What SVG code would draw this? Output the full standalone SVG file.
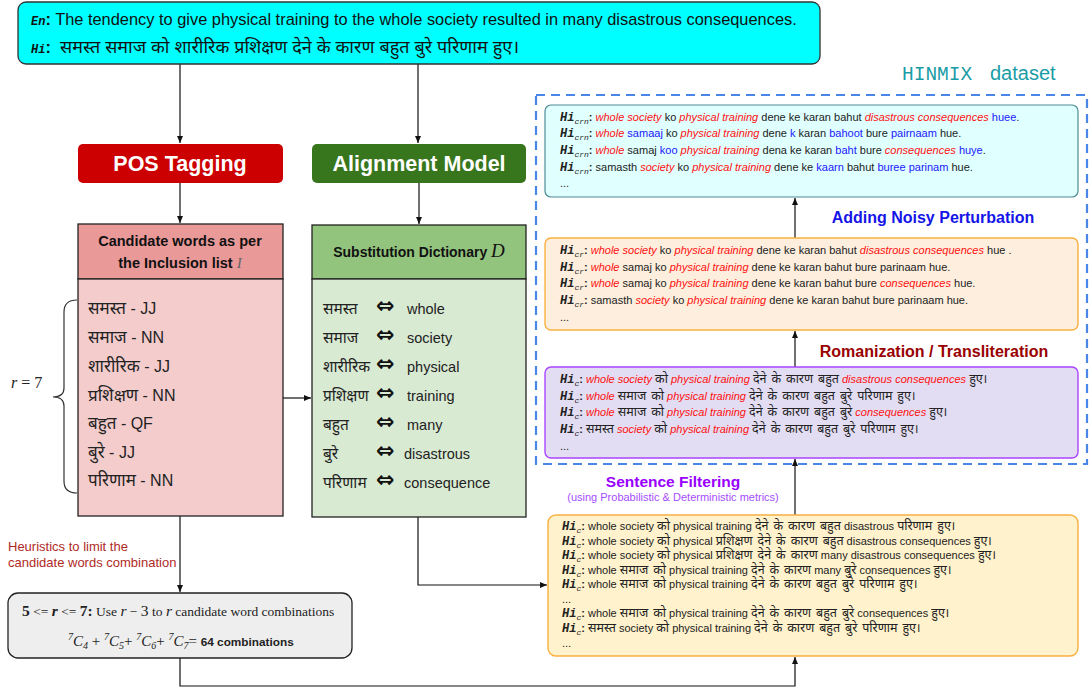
<svg xmlns="http://www.w3.org/2000/svg" width="1089" height="691" viewBox="0 0 1089 691">
<defs>
<marker id="ah" markerWidth="8" markerHeight="8" refX="7" refY="4" orient="auto" markerUnits="userSpaceOnUse">
<path d="M0,1 L7,4 L0,7 Z" fill="#111"/>
</marker>
<style>
.sans{font-family:"Liberation Sans","Noto Sans","Noto Sans Devanagari",sans-serif}
.serif{font-family:"Liberation Serif","DejaVu Serif",serif}
.t{font-family:"Liberation Sans","Noto Sans","Noto Sans Devanagari",sans-serif;font-size:11px;fill:#222}
.hi{font-family:"Liberation Mono","DejaVu Sans Mono",monospace;font-weight:bold;font-style:italic;font-size:12px}
.sub{font-family:"Liberation Mono","DejaVu Sans Mono",monospace;font-style:italic;font-size:8px}
.col{font-weight:bold}
.dv{font-size:12.5px;word-spacing:1.5px}
.r{fill:#FF1010;font-style:italic}
.b{fill:#2020FF}
.conn{fill:none;stroke:#111;stroke-width:1.2}
.list{font-family:"Liberation Sans","Noto Sans","Noto Sans Devanagari",sans-serif;font-size:16px;fill:#222}
.ld{font-size:17px}
.dict{font-family:"Liberation Sans","Noto Sans","Noto Sans Devanagari",sans-serif;font-size:14.5px;fill:#222}
.dd{font-family:"Liberation Sans","Noto Sans","Noto Sans Devanagari",sans-serif;font-size:15.5px;fill:#222}
.dar{font-family:"DejaVu Sans",sans-serif;font-size:22px;font-weight:bold;fill:#111}
</style>
</defs>
<rect width="1089" height="691" fill="#fff"/>

<g id="connectors">
<path class="conn" d="M180,64 V143" marker-end="url(#ah)"/>
<path class="conn" d="M418,64 V143" marker-end="url(#ah)"/>
<path class="conn" d="M180,183 V223" marker-end="url(#ah)"/>
<path class="conn" d="M419,183 V224" marker-end="url(#ah)"/>
<path class="conn" d="M283,398 H311" marker-end="url(#ah)"/>
<path class="conn" d="M180,516 V592" marker-end="url(#ah)"/>
<path class="conn" d="M180,658 V686 H795 V657" marker-end="url(#ah)"/>
<path class="conn" d="M418,517 V585 H547" marker-end="url(#ah)"/>
<path class="conn" d="M795,515 V459" marker-end="url(#ah)"/>
<path class="conn" d="M795,367 V331" marker-end="url(#ah)"/>
<path class="conn" d="M795,238 V198" marker-end="url(#ah)"/>
</g>

<g id="source">
<rect x="18" y="2" width="802" height="62" rx="8" fill="#00FFFF" stroke="#333" stroke-width="1.3"/>
<text x="31" y="25" class="sans" font-size="16.4" fill="#111"><tspan class="hi" font-size="14">En</tspan><tspan font-weight="bold">:</tspan> The tendency to give physical training to the whole society resulted in many disastrous consequences.</text>
<text x="31" y="53" class="sans" font-size="16.4" fill="#111"><tspan class="hi" font-size="14">Hi</tspan><tspan font-weight="bold">:</tspan></text>
<text x="60" y="53" class="sans" font-size="18" fill="#111" textLength="459" lengthAdjust="spacingAndGlyphs">समस्त समाज को शारीरिक प्रशिक्षण देने के कारण बहुत बुरे परिणाम हुए।</text>
</g>

<g id="pos-tagging">
<rect x="78" y="144" width="205" height="39" rx="5" fill="#CC0000"/>
<text x="180" y="171" class="sans" font-size="21.5" font-weight="bold" fill="#fff" text-anchor="middle">POS Tagging</text>
</g>

<g id="alignment-model">
<rect x="312" y="144" width="214" height="39" rx="5" fill="#38761D"/>
<text x="419" y="171" class="sans" font-size="21.5" font-weight="bold" fill="#fff" text-anchor="middle">Alignment Model</text>
</g>

<g id="candidate-words">
<rect x="78" y="224" width="205" height="55" fill="#EA9999" stroke="#222" stroke-width="1.3"/>
<rect x="78" y="279" width="205" height="237" fill="#F4CCCC" stroke="#222" stroke-width="1.3"/>
<text x="180" y="246" class="sans" font-size="14.5" font-weight="bold" fill="#111" text-anchor="middle">Candidate words as per</text>
<text x="180" y="268" class="sans" font-size="14.5" font-weight="bold" fill="#111" text-anchor="middle">the Inclusion list <tspan class="serif" font-style="italic" font-weight="normal" fill="#666" font-size="15">I</tspan></text>
<text x="88" y="314" class="list"><tspan class="ld">समस्त</tspan>  - JJ</text>
<text x="88" y="343" class="list"><tspan class="ld">समाज</tspan> - NN</text>
<text x="88" y="372" class="list"><tspan class="ld">शारीरिक</tspan> - JJ</text>
<text x="88" y="401" class="list"><tspan class="ld">प्रशिक्षण</tspan> - NN</text>
<text x="88" y="429" class="list"><tspan class="ld">बहुत</tspan> - QF</text>
<text x="88" y="458" class="list"><tspan class="ld">बुरे</tspan> - JJ</text>
<text x="88" y="486" class="list"><tspan class="ld">परिणाम</tspan> - NN</text>
</g>

<g id="brace">
<path d="M77,300 Q64,300 64,312 V388 Q64,397 53,397 Q64,397 64,406 V481 Q64,493 77,493" fill="none" stroke="#333" stroke-width="1.2"/>
<text x="11" y="388" class="serif" font-size="16" fill="#222"><tspan font-style="italic">r</tspan> = 7</text>
</g>

<g id="substitution-dictionary">
<rect x="312" y="225" width="214" height="54" fill="#93C47D" stroke="#222" stroke-width="1.3"/>
<rect x="312" y="279" width="214" height="238" fill="#D9EAD3" stroke="#222" stroke-width="1.3"/>
<text x="419" y="257" class="sans" font-size="14" font-weight="bold" fill="#111" text-anchor="middle">Substitution Dictionary <tspan class="serif" font-style="italic" font-weight="normal" font-size="19">D</tspan></text>
<text x="323" y="314" class="dd">समस्त</text><text x="376" y="313" class="dar">⇔</text><text x="407" y="314" class="dict">whole</text>
<text x="323" y="343" class="dd">समाज</text><text x="376" y="342" class="dar">⇔</text><text x="407" y="343" class="dict">society</text>
<text x="323" y="372" class="dd">शारीरिक</text><text x="376" y="371" class="dar">⇔</text><text x="407" y="372" class="dict">physical</text>
<text x="323" y="401" class="dd">प्रशिक्षण</text><text x="376" y="400" class="dar">⇔</text><text x="407" y="401" class="dict">training</text>
<text x="323" y="430" class="dd">बहुत</text><text x="376" y="429" class="dar">⇔</text><text x="407" y="430" class="dict">many</text>
<text x="323" y="459" class="dd">बुरे</text><text x="376" y="458" class="dar">⇔</text><text x="404" y="459" class="dict">disastrous</text>
<text x="323" y="488" class="dd">परिणाम</text><text x="376" y="487" class="dar">⇔</text><text x="404" y="488" class="dict">consequence</text>
</g>

<g id="heuristics-label">
<text x="8" y="551" class="sans" font-size="13" fill="#B02A25">Heuristics to limit the</text>
<text x="8" y="567" class="sans" font-size="13" fill="#B02A25">candidate words combination</text>
</g>

<g id="combinations">
<rect x="8" y="593" width="344" height="65" rx="10" fill="#EEEEEE" stroke="#222" stroke-width="1.3"/>
<text x="22" y="616" class="serif" font-size="13.5" fill="#222"><tspan font-weight="bold" font-size="15.5">5</tspan> &lt;= <tspan font-weight="bold" font-style="italic" font-size="15.5">r</tspan> &lt;= <tspan font-weight="bold" font-size="15.5">7:</tspan> Use <tspan font-style="italic" font-size="15.5">r</tspan> − <tspan font-size="15.5">3</tspan> to <tspan font-style="italic" font-size="15.5">r</tspan> candidate word combinations</text>
<text x="68" y="646" class="serif" font-size="15" fill="#222"><tspan font-size="10" font-style="italic" dy="-6">7</tspan><tspan font-style="italic" dy="6">C</tspan><tspan font-size="10" font-style="italic" dy="3">4</tspan><tspan dy="-3"> + </tspan><tspan font-size="10" font-style="italic" dy="-6">7</tspan><tspan font-style="italic" dy="6">C</tspan><tspan font-size="10" font-style="italic" dy="3">5</tspan><tspan dy="-3">+ </tspan><tspan font-size="10" font-style="italic" dy="-6">7</tspan><tspan font-style="italic" dy="6">C</tspan><tspan font-size="10" font-style="italic" dy="3">6</tspan><tspan dy="-3">+ </tspan><tspan font-size="10" font-style="italic" dy="-6">7</tspan><tspan font-style="italic" dy="6">C</tspan><tspan font-size="10" font-style="italic" dy="3">7</tspan><tspan dy="-3">= </tspan><tspan class="sans" font-size="11.8" font-weight="bold">64 combinations</tspan></text>
</g>

<g id="hinmix-dataset">
<rect x="536" y="95" width="551" height="369" fill="none" stroke="#4A86E8" stroke-width="2.2" stroke-dasharray="9 6"/>
<text x="902" y="80" font-family="Liberation Mono, DejaVu Sans Mono, monospace" font-size="19.5" fill="#1A9CA6">HINMIX</text>
<text x="990" y="80" class="sans" font-size="20" fill="#1A9CA6">dataset</text>
</g>

<g id="code-mixed-noisy">
<rect x="545" y="105" width="533" height="92" rx="6" fill="#E0FFFF" stroke="#4E8C96" stroke-width="1.2"/>
<text x="560" y="121" class="t"><tspan class="hi">Hi</tspan><tspan class="sub" dy="3">crn</tspan><tspan class="col" dy="-3">:</tspan> <tspan class="r">whole society</tspan> ko <tspan class="r">physical training</tspan> dene ke karan bahut <tspan class="r">disastrous consequences</tspan> <tspan class="b">huee</tspan>.</text>
<text x="560" y="137" class="t"><tspan class="hi">Hi</tspan><tspan class="sub" dy="3">crn</tspan><tspan class="col" dy="-3">:</tspan> <tspan class="r">whole</tspan> <tspan class="b">samaaj</tspan> ko <tspan class="r">physical training</tspan> dene <tspan class="b">k</tspan> karan <tspan class="b">bahoot</tspan> bure <tspan class="b">pairnaam</tspan> hue.</text>
<text x="560" y="154" class="t"><tspan class="hi">Hi</tspan><tspan class="sub" dy="3">crn</tspan><tspan class="col" dy="-3">:</tspan> <tspan class="r">whole</tspan> samaj <tspan class="b">koo</tspan> <tspan class="r">physical training</tspan> dena ke karan <tspan class="b">baht</tspan> bure <tspan class="r">consequences</tspan> <tspan class="b">huye</tspan>.</text>
<text x="560" y="171" class="t"><tspan class="hi">Hi</tspan><tspan class="sub" dy="3">crn</tspan><tspan class="col" dy="-3">:</tspan> samasth <tspan class="r">society</tspan> ko <tspan class="r">physical training</tspan> dene ke <tspan class="b">kaarn</tspan> bahut <tspan class="b">buree parinam</tspan> hue.</text>
<text x="560" y="187" class="t">...</text>
</g>

<g id="noisy-label">
<text x="933" y="223" class="sans" font-size="16" font-weight="bold" fill="#1515E8" text-anchor="middle">Adding Noisy Perturbation</text>
</g>

<g id="code-mixed-romanized">
<rect x="545" y="238" width="533" height="92" rx="6" fill="#FDEEDD" stroke="#F9B040" stroke-width="1.4"/>
<text x="560" y="254" class="t"><tspan class="hi">Hi</tspan><tspan class="sub" dy="3">cr</tspan><tspan class="col" dy="-3">:</tspan> <tspan class="r">whole society</tspan> ko <tspan class="r">physical training</tspan> dene ke karan bahut <tspan class="r">disastrous consequences</tspan> hue .</text>
<text x="560" y="271" class="t"><tspan class="hi">Hi</tspan><tspan class="sub" dy="3">cr</tspan><tspan class="col" dy="-3">:</tspan> <tspan class="r">whole</tspan> samaj ko <tspan class="r">physical training</tspan> dene ke karan bahut bure parinaam hue.</text>
<text x="560" y="287" class="t"><tspan class="hi">Hi</tspan><tspan class="sub" dy="3">cr</tspan><tspan class="col" dy="-3">:</tspan> <tspan class="r">whole</tspan> samaj ko <tspan class="r">physical training</tspan> dene ke karan bahut bure <tspan class="r">consequences</tspan> hue.</text>
<text x="560" y="304" class="t"><tspan class="hi">Hi</tspan><tspan class="sub" dy="3">cr</tspan><tspan class="col" dy="-3">:</tspan> samasth <tspan class="r">society</tspan> ko <tspan class="r">physical training</tspan> dene ke karan bahut bure parinaam hue.</text>
<text x="560" y="321" class="t">...</text>
</g>

<g id="romanization-label">
<text x="934" y="357" class="sans" font-size="16" font-weight="bold" fill="#990000" text-anchor="middle">Romanization / Transliteration</text>
</g>

<g id="code-mixed-filtered">
<rect x="545" y="367" width="533" height="91" rx="6" fill="#E2DDF3" stroke="#AA44FF" stroke-width="1.4"/>
<text x="560" y="383" class="t"><tspan class="hi">Hi</tspan><tspan class="sub" dy="3">c</tspan><tspan class="col" dy="-3">:</tspan> <tspan class="r">whole society</tspan> <tspan class="dv">को</tspan> <tspan class="r">physical training</tspan> <tspan class="dv">देने के कारण बहुत</tspan> <tspan class="r">disastrous consequences</tspan> <tspan class="dv">हुए।</tspan></text>
<text x="560" y="400" class="t"><tspan class="hi">Hi</tspan><tspan class="sub" dy="3">c</tspan><tspan class="col" dy="-3">:</tspan> <tspan class="r">whole</tspan> <tspan class="dv">समाज को</tspan> <tspan class="r">physical training</tspan> <tspan class="dv">देने के कारण बहुत बुरे परिणाम हुए।</tspan></text>
<text x="560" y="416" class="t"><tspan class="hi">Hi</tspan><tspan class="sub" dy="3">c</tspan><tspan class="col" dy="-3">:</tspan> <tspan class="r">whole</tspan> <tspan class="dv">समाज को</tspan> <tspan class="r">physical training</tspan> <tspan class="dv">देने के कारण बहुत बुरे</tspan> <tspan class="r">consequences</tspan> <tspan class="dv">हुए।</tspan></text>
<text x="560" y="433" class="t"><tspan class="hi">Hi</tspan><tspan class="sub" dy="3">c</tspan><tspan class="col" dy="-3">:</tspan> <tspan class="dv">समस्त</tspan> <tspan class="r">society</tspan> <tspan class="dv">को</tspan> <tspan class="r">physical training</tspan> <tspan class="dv">देने के कारण बहुत बुरे परिणाम हुए।</tspan></text>
<text x="560" y="450" class="t">...</text>
</g>

<g id="filtering-label">
<text x="673" y="487" class="sans" font-size="15.5" font-weight="bold" fill="#9900FF" text-anchor="middle">Sentence Filtering</text>
<text x="673" y="501" class="sans" font-size="11" fill="#A64DFF" text-anchor="middle">(using Probabilistic &amp; Deterministic metrics)</text>
</g>

<g id="code-mixed-candidates">
<rect x="548" y="515" width="530" height="141" rx="8" fill="#FFF2CC" stroke="#F8B040" stroke-width="1.4"/>
<text x="562" y="530" class="t"><tspan class="hi">Hi</tspan><tspan class="sub" dy="3">c</tspan><tspan class="col" dy="-3">:</tspan> whole society <tspan class="dv">को</tspan> physical training <tspan class="dv">देने के कारण बहुत</tspan> disastrous <tspan class="dv">परिणाम हुए।</tspan></text>
<text x="562" y="545" class="t"><tspan class="hi">Hi</tspan><tspan class="sub" dy="3">c</tspan><tspan class="col" dy="-3">:</tspan> whole society <tspan class="dv">को</tspan> physical <tspan class="dv">प्रशिक्षण देने के कारण बहुत</tspan> disastrous consequences <tspan class="dv">हुए।</tspan></text>
<text x="562" y="559" class="t"><tspan class="hi">Hi</tspan><tspan class="sub" dy="3">c</tspan><tspan class="col" dy="-3">:</tspan> whole society <tspan class="dv">को</tspan> physical <tspan class="dv">प्रशिक्षण देने के कारण</tspan> many disastrous consequences <tspan class="dv">हुए।</tspan></text>
<text x="562" y="574" class="t"><tspan class="hi">Hi</tspan><tspan class="sub" dy="3">c</tspan><tspan class="col" dy="-3">:</tspan> whole <tspan class="dv">समाज को</tspan> physical training <tspan class="dv">देने के कारण</tspan> many <tspan class="dv">बुरे</tspan> consequences <tspan class="dv">हुए।</tspan></text>
<text x="562" y="588" class="t"><tspan class="hi">Hi</tspan><tspan class="sub" dy="3">c</tspan><tspan class="col" dy="-3">:</tspan> whole <tspan class="dv">समाज को</tspan> physical training <tspan class="dv">देने के कारण बहुत बुरे परिणाम हुए।</tspan></text>
<text x="562" y="603" class="t">...</text>
<text x="562" y="617" class="t"><tspan class="hi">Hi</tspan><tspan class="sub" dy="3">c</tspan><tspan class="col" dy="-3">:</tspan> whole <tspan class="dv">समाज को</tspan> physical training <tspan class="dv">देने के कारण बहुत बुरे</tspan> consequences <tspan class="dv">हुए।</tspan></text>
<text x="562" y="632" class="t"><tspan class="hi">Hi</tspan><tspan class="sub" dy="3">c</tspan><tspan class="col" dy="-3">:</tspan> <tspan class="dv">समस्त</tspan> society <tspan class="dv">को</tspan> physical training <tspan class="dv">देने के कारण बहुत बुरे परिणाम हुए।</tspan></text>
<text x="562" y="647" class="t">...</text>
</g>
</svg>
